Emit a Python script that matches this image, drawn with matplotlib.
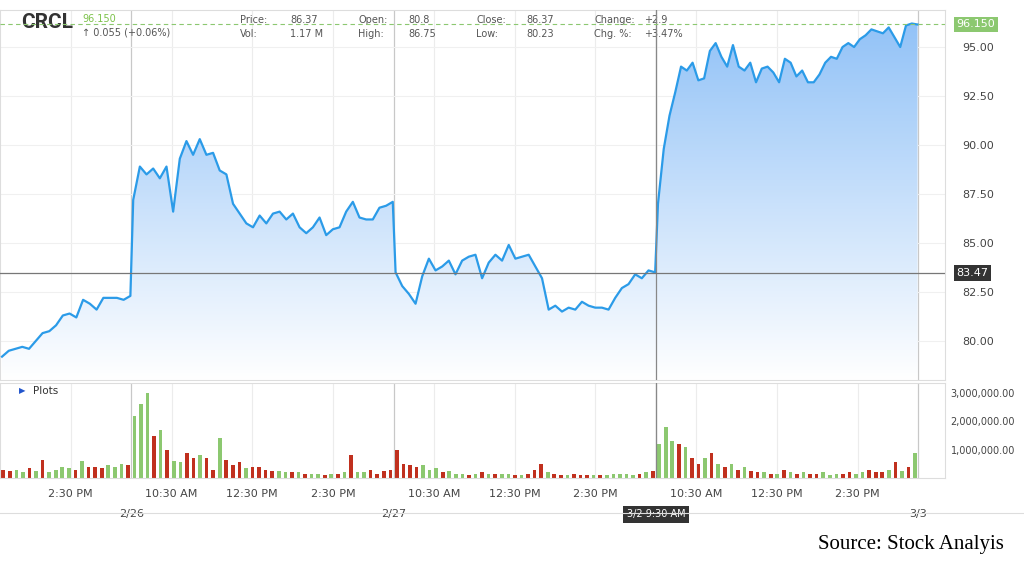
import numpy as np
import matplotlib.pyplot as plt
from matplotlib.patches import Polygon

# price data, 10-minute samples per session
p_seg1 = [79.2, 79.5, 79.6, 79.7, 79.6, 80.0, 80.4, 80.5, 80.8, 81.3, 81.4, 81.2, 82.1, 81.9, 81.6, 82.2, 82.2, 82.2, 82.1, 82.3]
p_0226 = [87.2, 88.9, 88.5, 88.8, 88.3, 88.9, 86.6, 89.3, 90.2, 89.5, 90.3, 89.5, 89.6, 88.7, 88.5, 87.0, 86.5, 86.0,
          85.8, 86.4, 86.0, 86.5, 86.6, 86.2, 86.5, 85.8, 85.5, 85.8, 86.3, 85.4, 85.7, 85.8, 86.6, 87.1, 86.3, 86.2,
          86.2, 86.8, 86.9, 87.1]
p_0227 = [83.5, 82.8, 82.4, 81.9, 83.3, 84.2, 83.6, 83.8, 84.1, 83.4, 84.1, 84.3, 84.4, 83.2, 84.0, 84.4, 84.1, 84.9,
          84.2, 84.3, 84.4, 83.8, 83.2, 81.6, 81.8, 81.5, 81.7, 81.6, 82.0, 81.8, 81.7, 81.7, 81.6, 82.2, 82.7, 82.9,
          83.4, 83.2, 83.6, 83.5]
p_0302 = [87.0, 89.8, 91.5, 92.7, 94.0, 93.8, 94.2, 93.3, 93.4, 94.8, 95.2, 94.5, 94.0, 95.1, 94.0, 93.8, 94.2, 93.2,
          93.9, 94.0, 93.7, 93.2, 94.4, 94.2, 93.5, 93.8, 93.2, 93.2, 93.6, 94.2, 94.5, 94.4, 95.0, 95.2, 95.0, 95.4,
          95.6, 95.9, 95.8, 95.7, 96.0, 95.5, 95.0, 96.1, 96.2, 96.15]

# volume data (thousands of shares)
v_seg1 = [300, 250, 300, 200, 350, 250, 650, 200, 300, 400, 350, 300, 600, 400, 400, 350, 450, 400, 500, 450]
c_seg1 = "rrggrgrggggrgrrrgggr"
v_0226 = [2200, 2600, 3000, 1500, 1700, 1000, 600, 550, 900, 700, 800, 700, 300, 1400, 650, 450, 550, 350, 400, 400,
          300, 250, 250, 200, 200, 200, 150, 150, 150, 100, 150, 150, 200, 800, 200, 200, 300, 150, 250, 300]
c_0226 = "gggrgrggrrgrrgrrrgrrrrggrgrggrgrgrggrrrr"
v_0227 = [1000, 500, 450, 400, 450, 300, 350, 200, 250, 150, 150, 100, 150, 200, 150, 150, 150, 150, 100, 100,
          150, 300, 500, 200, 150, 100, 100, 150, 100, 100, 100, 100, 100, 150, 150, 150, 100, 150, 200, 250]
c_0227 = "rrrrgggrgggrgrgrggrgrrrgrrgrrrgrgggggrgr"
v_0302 = [1200, 1800, 1300, 1200, 1100, 700, 500, 700, 900, 500, 400, 500, 300, 400, 250, 200, 200, 150, 150, 300,
          200, 150, 200, 150, 150, 200, 100, 150, 150, 200, 150, 200, 300, 200, 200, 300, 550, 250, 400, 900]
c_0302 = "gggrgrrgrgrgrgrrgrgrgrgrrgggrrggrrrgrgrg"

price_ticks = [80.00, 82.50, 85.00, 87.50, 90.00, 92.50, 95.00]
day_labels = ["2/26", "2/27", "3/2 9:30 AM", "3/3"]

SEG1 = 3.25
DAY = 6.5
starts = [0, SEG1, SEG1 + DAY, SEG1 + 2 * DAY]
lengths = [SEG1, DAY, DAY, DAY]

t_all, p_all = [], []
tv_all, v_all, col_all = [], [], []
for s, L, p, v, c in zip(starts, lengths, [p_seg1, p_0226, p_0227, p_0302],
                         [v_seg1, v_0226, v_0227, v_0302], [c_seg1, c_0226, c_0227, c_0302]):
    t_all += list(np.linspace(s + 0.05, s + L - 0.02, len(p)))
    p_all += p
    tv_all += list(np.linspace(s + 0.08, s + L - 0.08, len(v)))
    v_all += [x * 1000 for x in v]
    col_all += ["#8cc870" if ch == "g" else "#c0301e" for ch in c]
t_all = np.array(t_all)
p_all = np.array(p_all)

fig = plt.figure(figsize=(10.24, 5.76), dpi=100)
ax = fig.add_axes([0.0, 0.34, 0.923, 0.643])
axv = fig.add_axes([0.0, 0.17, 0.923, 0.165])

xmax = 945 / 40.36
ymin, ymax = 78.0, 96.9
line_col = "#2b9be8"

# gradient fill under line
grad = np.linspace(0, 1, 256).reshape(-1, 1)
im = ax.imshow(grad, extent=[0, xmax, ymin, ymax], origin="lower", aspect="auto",
               cmap=plt.matplotlib.colors.LinearSegmentedColormap.from_list("g", ["#ffffff", "#8ec0f7"]), zorder=1)
poly = Polygon(np.column_stack([np.r_[t_all[0], t_all, t_all[-1]], np.r_[ymin, p_all, ymin]]),
               closed=True, transform=ax.transData, facecolor="none", edgecolor="none")
ax.add_patch(poly)
im.set_clip_path(poly)
ax.plot(t_all, p_all, color=line_col, lw=1.6, zorder=3)

# grid lines
tick_pos = [SEG1 - 1.5] + [SEG1 + k * DAY + h for k in range(3) for h in (1, 3, 5)]
tick_lab = ["2:30 PM"] + ["10:30 AM", "12:30 PM", "2:30 PM"] * 3
day_pos = [SEG1 + k * DAY for k in range(4)]
for a in (ax, axv):
    for x in tick_pos:
        a.axvline(x, color="#ececec", lw=0.8, zorder=0)
    for x in day_pos:
        a.axvline(x, color="#c8c8c8", lw=0.9, zorder=0)
    a.axvline(day_pos[2], color="#888888", lw=0.9, zorder=4)
    a.set_xlim(0, xmax)
    for sp in a.spines.values():
        sp.set_color("#dddddd")
for y in price_ticks:
    ax.axhline(y, color="#f0f0f0", lw=0.8, zorder=0)

ax.set_ylim(ymin, ymax)
ax.yaxis.tick_right()
ax.set_yticks(price_ticks)
ax.set_yticklabels([f"{y:.2f}" for y in price_ticks], color="#444444", fontsize=8)
ax.tick_params(axis="y", length=0, pad=12)
ax.set_xticks([])

# crosshair and last price
ax.axhline(83.47, color="#777777", lw=0.9, zorder=4)
ax.text(1.012, (83.47 - ymin) / (ymax - ymin), "83.47", transform=ax.transAxes, fontsize=8, color="white",
        va="center", bbox=dict(boxstyle="square,pad=0.25", fc="#333333", ec="none"))
ax.axhline(96.15, color="#8cc870", lw=0.8, ls=(0, (4, 3)), zorder=4)
ax.text(1.012, (96.15 - ymin) / (ymax - ymin), "96.150", transform=ax.transAxes, fontsize=8, color="white",
        va="center", bbox=dict(boxstyle="square,pad=0.25", fc="#8cc870", ec="none"))

# header
ax.text(0.022, 0.965, "CRCL", transform=ax.transAxes, fontsize=15, fontweight="bold", color="#333333",
        va="center", family="Roboto")
ax.text(0.087, 0.974, "96.150", transform=ax.transAxes, fontsize=7, color="#7cc24a", va="center")
ax.text(0.087, 0.94, "\u2191 0.055 (+0.06%)", transform=ax.transAxes, fontsize=7, color="#555555", va="center")
hdr = [("Price:", "86.37", "Vol:", "1.17 M"), ("Open:", "80.8", "High:", "86.75"),
       ("Close:", "86.37", "Low:", "80.23"), ("Change:", "+2.9", "Chg. %:", "+3.47%")]
for i, (l1, v1, l2, v2) in enumerate(hdr):
    x0 = (240 + i * 118) / 945
    for (l, v, yy) in ((l1, v1, 0.973), (l2, v2, 0.935)):
        ax.text(x0, yy, l, transform=ax.transAxes, fontsize=7, color="#555555", va="center")
        ax.text(x0 + 50 / 945, yy, v, transform=ax.transAxes, fontsize=7, color="#555555", va="center")

# volume panel
axv.bar(tv_all, v_all, width=0.09, color=col_all, zorder=2)
axv.set_ylim(0, 3.35e6)
axv.yaxis.tick_right()
axv.set_yticks([1e6, 2e6, 3e6])
axv.set_yticklabels(["1,000,000.00", "2,000,000.00", "3,000,000.00"], color="#444444", fontsize=7)
axv.tick_params(axis="y", length=0, pad=4)
axv.set_xticks(tick_pos)
axv.set_xticklabels(tick_lab, fontsize=8, color="#444444")
axv.tick_params(axis="x", length=0, pad=8)
axv.text(0.02, 0.92, "\u25b6", transform=axv.transAxes, fontsize=6, color="#2255cc", va="center")
axv.text(0.035, 0.92, "Plots", transform=axv.transAxes, fontsize=7.5, color="#333333", va="center")
for i, (x, lab) in enumerate(zip(day_pos, day_labels)):
    if i == 2:
        axv.text(x, -0.38, lab, transform=axv.get_xaxis_transform(), fontsize=7, color="white", ha="center",
                 va="center", bbox=dict(boxstyle="square,pad=0.35", fc="#333333", ec="none"))
    else:
        axv.text(x, -0.38, lab, transform=axv.get_xaxis_transform(), fontsize=8, color="#444444",
                 ha="center", va="center")

fig.add_artist(plt.Line2D([0, 1], [1 - 513 / 576] * 2, color="#dddddd", lw=0.8))
fig.text(0.98, 0.055, "Source: Stock Analyis", fontsize=15, family="Liberation Serif", ha="right", va="center")

fig.savefig("out.png", dpi=100)
